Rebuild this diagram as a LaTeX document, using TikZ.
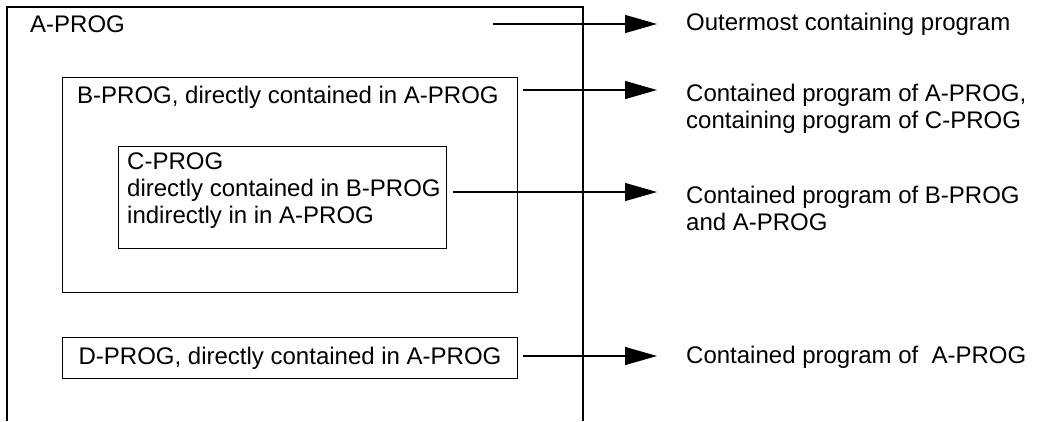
\documentclass[tikz,border=0pt]{standalone}
\usepackage{fontspec}
\setmainfont{Liberation Sans}
\usetikzlibrary{arrows.meta}
\tikzset{
  progbox/.style={draw, line width=1.1pt, inner sep=0pt, anchor=north west},
  progtext/.style={font=\fontsize{24}{27}\selectfont, inner sep=0pt},
  pointer/.style={line width=1.1pt, -{Triangle[length=32pt,width=18pt]}}
}
\begin{document}
\begin{tikzpicture}[x=1pt,y=-1pt]
\useasboundingbox (0,0) rectangle (1038,421);
% outer program, open at the bottom
\draw[line width=1.1pt] (7,421)--(7,7)--(583,7)--(583,421);
\node[progtext, anchor=west] (atxt) at (30,24) {A-PROG};
\coordinate (astart) at (493,24);
% contained programs
\node[progbox, minimum width=455pt, minimum height=215pt] (b) at (62,77) {};
\node[progtext, anchor=west] (btxt) at (77,97) {B-PROG, directly contained in A-PROG};
\node[progbox, minimum width=328pt, minimum height=102pt] (c) at (118,146) {};
\node[progtext, anchor=north west, align=left] (ctxt) at (127,153)
  {C-PROG\\directly contained in B-PROG\\indirectly in in A-PROG};
\node[progbox, progtext, minimum width=455pt, minimum height=41pt] (d) at (62,337)
  {D-PROG, directly contained in A-PROG};
% explanations
\node[progtext, anchor=west] (la) at (686,24) {Outermost containing program};
\node[progtext, anchor=north west, align=left] (lb) at (686,84)
  {Contained program of A-PROG,\\containing program of C-PROG};
\node[progtext, anchor=north west, align=left] (lc) at (686,186)
  {Contained program of B-PROG\\and A-PROG};
\node[progtext, anchor=west] (ld) at (686,357) {Contained program of \ A-PROG};
\coordinate (ea) at (657,24);
\coordinate (eb) at (657,90);
\coordinate (ec) at (657,192);
\coordinate (ed) at (657,356);
\draw[pointer] (astart) -- (ea);
\draw[pointer] ([xshift=5pt]b.east |- eb) -- (eb);
\draw[pointer] ([xshift=6pt]c.east |- ec) -- (ec);
\draw[pointer] ([xshift=5pt]d.east |- ed) -- (ed);
\end{tikzpicture}
\end{document}
